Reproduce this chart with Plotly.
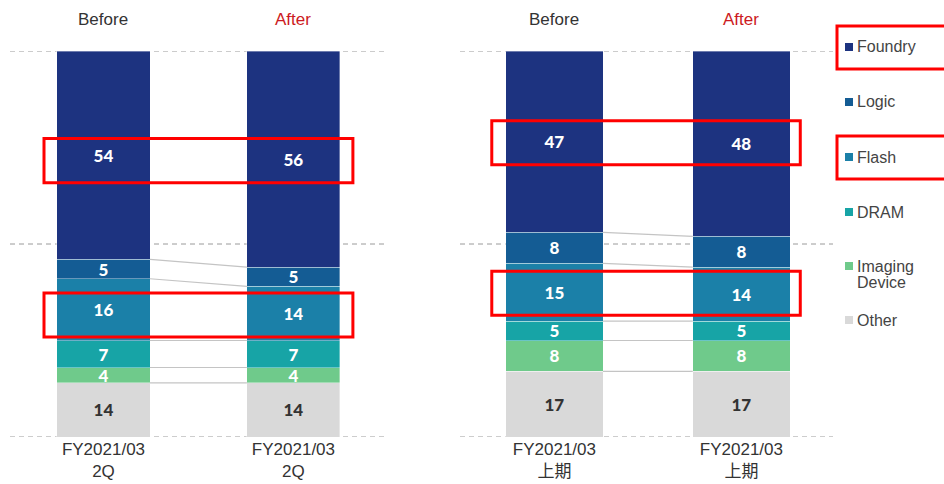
import plotly.graph_objects as go

segments = ["Foundry", "Logic", "Flash", "DRAM", "Imaging Device", "Other"]
legend_labels = [["Foundry"], ["Logic"], ["Flash"], ["DRAM"], ["Imaging", "Device"], ["Other"]]
colors = ["#1d3380", "#145c94", "#1b80a8", "#17a4a6", "#6fca8b", "#d9d9d9"]
text_colors = ["white", "white", "white", "white", "white", "#333333"]

header_labels = ["Before", "After"]
header_colors = ["#333333", "#cc1a22"]

left_ticks = ["FY2021/03<br>2Q", "FY2021/03<br>2Q"]
left_before = [54, 5, 16, 7, 4, 14]
left_after = [56, 5, 14, 7, 4, 14]

right_ticks = ["FY2021/03<br>上期", "FY2021/03<br>上期"]
right_before = [47, 8, 15, 5, 8, 17]
right_after = [48, 8, 14, 5, 8, 17]

grid_levels = [0, 50, 100]
highlighted = ["Foundry", "Flash"]

W, H = 944, 484
fig = go.Figure()

panels = [
    dict(xa="x", ya="y", before=left_before, after=left_after, ticks=left_ticks,
         width=0.49, dom=[10 / W, 385 / W], rng=[-0.492, 1.482], box=[-0.313, 1.313], boxdy=-0.9),
    dict(xa="x2", ya="y2", before=right_before, after=right_after, ticks=right_ticks,
         width=0.52, dom=[460 / W, 833 / W], rng=[-0.505, 1.49], box=[-0.335, 1.315], boxdy=0),
]

shapes = []
annotations = []


def bottoms(vals):
    return [sum(vals[i + 1:]) for i in range(len(vals))]


for p in panels:
    # dashed guide lines behind bars
    for g in grid_levels:
        shapes.append(dict(type="line", xref=p["xa"] + " domain", yref=p["ya"],
                           x0=0, x1=1, y0=g, y1=g, layer="below",
                           line=dict(color="#9a9a9a", width=1, dash="5px,4px")))
    # stacked from bottom: reverse order (Other at bottom)
    for i in reversed(range(len(segments))):
        fig.add_trace(go.Bar(
            x=[0, 1], y=[p["before"][i], p["after"][i]],
            xaxis=p["xa"], yaxis=p["ya"],
            width=p["width"], marker=dict(color=colors[i], line=dict(color="rgba(255,255,255,0.6)", width=0.6)),
            text=[str(p["before"][i]), str(p["after"][i])],
            textposition="inside", insidetextanchor="middle", textangle=0,
            textfont=dict(family="Lato", size=17, color=text_colors[i], weight=900),
            showlegend=False, hoverinfo="skip", name=segments[i],
        ))
    bb = bottoms(p["before"])
    ba = bottoms(p["after"])
    hw = p["width"] / 2
    for i in range(len(segments) - 1):
        shapes.append(dict(type="line", xref=p["xa"], yref=p["ya"],
                           x0=0 + hw, x1=1 - hw, y0=bb[i], y1=ba[i],
                           line=dict(color="#c4c4c4", width=1.2), layer="above"))
    for name in highlighted:
        i = segments.index(name)
        c = (bb[i] + p["before"][i] / 2 + ba[i] + p["after"][i] / 2) / 2 + p["boxdy"]
        shapes.append(dict(type="rect", xref=p["xa"], yref=p["ya"],
                           x0=p["box"][0], x1=p["box"][1], y0=c - 5.7, y1=c + 5.7,
                           line=dict(color="#ff0000", width=3), layer="above"))
    for k in range(2):
        annotations.append(dict(x=k, y=(H - 19) / H, xref=p["xa"], yref="paper",
                                yanchor="middle", text=header_labels[k], showarrow=False,
                                font=dict(family="Liberation Sans", size=17, color=header_colors[k])))

# legend (manual)
leg_y = [47, 102, 157, 212, 266, 320]
for i, lines in enumerate(legend_labels):
    yc = leg_y[i]
    shapes.append(dict(type="rect", xref="paper", yref="paper",
                       x0=845 / W, x1=853 / W, y0=(H - yc - 4) / H, y1=(H - yc + 4) / H,
                       fillcolor=colors[i], line=dict(width=0)))
    for j, lab in enumerate(lines):
        annotations.append(dict(x=855 / W, y=(H - yc - 16 * j) / H, xref="paper", yref="paper",
                                xanchor="left", yanchor="middle", align="left",
                                text=lab, showarrow=False,
                                font=dict(family="Liberation Sans", size=16, color="#444444")))
# legend highlight boxes
for name in highlighted:
    yc = leg_y[segments.index(name)]
    shapes.append(dict(type="rect", xref="paper", yref="paper",
                       x0=837 / W, x1=960 / W, y0=(H - yc - 22) / H, y1=(H - yc + 21) / H,
                       line=dict(color="#ff0000", width=3)))

ydom = [(H - 437) / H, (H - 51) / H]
axis_y = dict(range=[0, 100], domain=ydom, showticklabels=False,
              showgrid=False, zeroline=False, showline=False, fixedrange=True)

fig.update_layout(
    width=W, height=H, margin=dict(l=0, r=0, t=0, b=0),
    paper_bgcolor="white", plot_bgcolor="rgba(0,0,0,0)",
    barmode="stack", showlegend=False,
    xaxis=dict(domain=panels[0]["dom"], range=panels[0]["rng"], tickvals=[0, 1], ticktext=left_ticks,
               showgrid=False, zeroline=False, showline=False, ticks="",
               tickfont=dict(family="Liberation Sans", size=17, color="#333333")),
    xaxis2=dict(domain=panels[1]["dom"], range=panels[1]["rng"], tickvals=[0, 1], ticktext=right_ticks,
                showgrid=False, zeroline=False, showline=False, ticks="", anchor="y2",
                tickfont=dict(family="Liberation Sans, Noto Sans CJK JP", size=17, color="#333333")),
    yaxis=axis_y,
    yaxis2=dict(axis_y, anchor="x2"),
    shapes=shapes, annotations=annotations,
    uniformtext=dict(minsize=17, mode="show"),
)

fig.write_html("out.html")
